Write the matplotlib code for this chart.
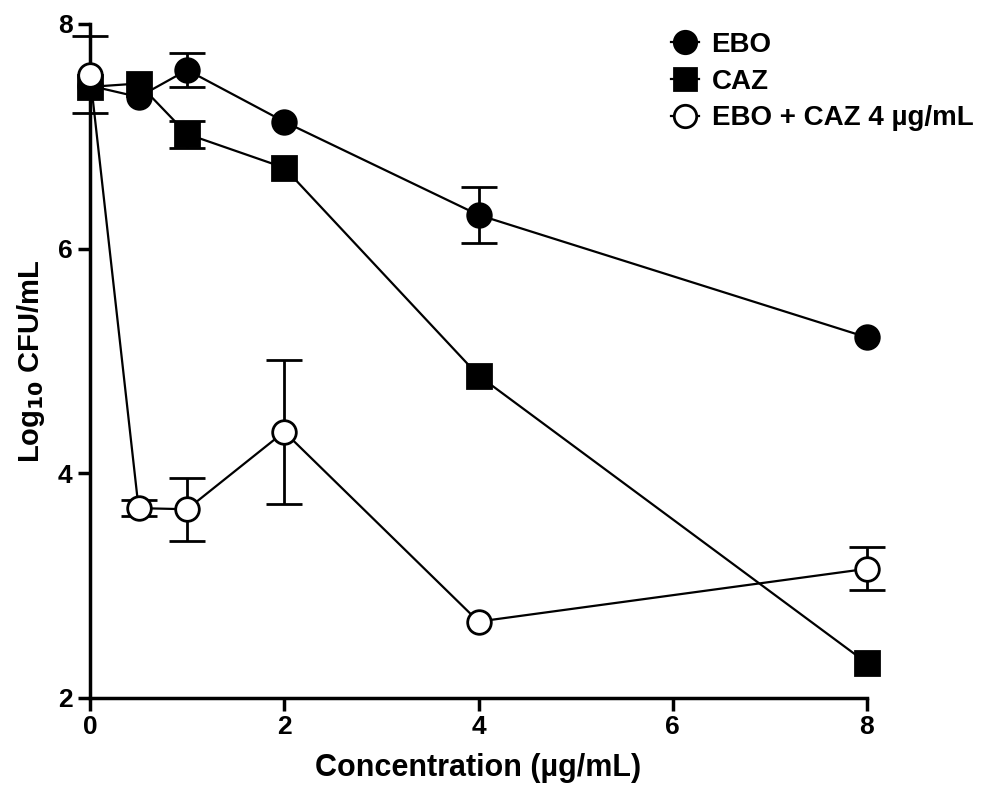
import matplotlib
matplotlib.use("Agg")
import matplotlib.pyplot as plt

conc = [0, 0.5, 1, 2, 4, 8]
ebo = [7.45, 7.35, 7.59, 7.13, 6.30, 5.21]
ebo_err = [0, 0, 0.15, 0, 0.25, 0]
caz = [7.44, 7.47, 7.02, 6.72, 4.87, 2.31]
caz_err = [0, 0, 0.12, 0, 0, 0]
combo = [7.55, 3.69, 3.68, 4.37, 2.68, 3.15]
combo_err = [0.34, 0.07, 0.28, 0.64, 0, 0.19]
labels = ["EBO", "CAZ", "EBO + CAZ 4 µg/mL"]
xticks = [0, 2, 4, 6, 8]
yticks = [2, 4, 6, 8]

plt.rcParams['font.family'] = ['Liberation Sans', 'DejaVu Sans']
plt.rcParams['font.weight'] = 'bold'

fig = plt.figure(figsize=(9.86, 7.86), dpi=100)
ax = fig.add_axes([0.0913, 0.112, 0.788, 0.8575])

series = [
    (ebo, ebo_err, 'o', 'black', labels[0]),
    (caz, caz_err, 's', 'black', labels[1]),
    (combo, combo_err, 'o', 'white', labels[2]),
]
handles = []
for vals, errs, mk, fc, lab in series:
    xs = [x for x, e in zip(conc, errs) if e > 0]
    ys = [v for v, e in zip(vals, errs) if e > 0]
    es = [e for e in errs if e > 0]
    ax.errorbar(xs, ys, yerr=es, fmt='none', ecolor='black', elinewidth=2,
                capsize=13, capthick=2, clip_on=False, zorder=2)
    h, = ax.plot(conc, vals, '-', marker=mk, color='black', lw=1.6, ms=17,
                 mfc=fc, mec='black', mew=2, clip_on=False, zorder=3, label=lab)
    handles.append(h)

ax.set_xlim(0, 8)
ax.set_ylim(2, 8)
ax.set_xticks(xticks)
ax.set_yticks(yticks)
for s in ['top', 'right']:
    ax.spines[s].set_visible(False)
for s in ['left', 'bottom']:
    ax.spines[s].set_linewidth(2.5)
ax.tick_params(width=2.5, length=9, labelsize=19)
for lab in ax.get_xticklabels() + ax.get_yticklabels():
    lab.set_fontweight('bold')
ax.set_xlabel("Concentration (µg/mL)", fontsize=22, fontweight='bold', labelpad=10)
ax.set_ylabel("Log$_{\\mathbf{10}}$ CFU/mL", fontsize=21, fontweight='bold', labelpad=8)

leg = ax.legend(handles=handles, loc='upper left', bbox_to_anchor=(0.716, 1.025), frameon=False,
                prop={'family': 'Liberation Sans', 'weight': 'bold', 'size': 20},
                handlelength=1.0, handletextpad=0.45, labelspacing=0.38, markerscale=0.95)

fig.savefig("out.png", dpi=100)
